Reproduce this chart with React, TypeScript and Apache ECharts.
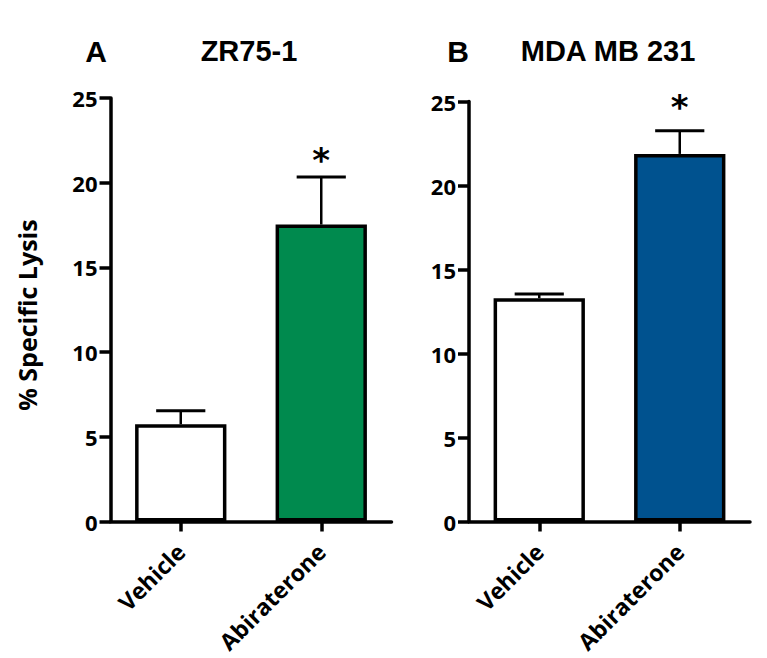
import React, { useEffect, useRef } from 'react';
import * as echarts from 'echarts';

// ---- data ----
const categories = ['Vehicle', 'Abiraterone'];
const panelLetters = ['A', 'B'];
const panelTitles = ['ZR75-1', 'MDA MB 231'];
const zr751Means = [5.74, 17.53];
const zr751Errors = [0.8, 2.81];
const mdaMeans = [13.29, 21.88];
const mdaErrors = [0.25, 1.38];
const significance = ['', '*'];
const yMin = 0;
const yMax = 25;
const yInterval = 5;
const yAxisTitle = '% Specific Lysis';

// ---- layout / style ----
const panels = [
  { means: zr751Means, errors: zr751Errors, left: 110.5, top: 98, width: 281, height: 423.5, fill: '#008A4E', letterX: 96, titleX: 249, starGap: 17 },
  { means: mdaMeans, errors: mdaErrors, left: 469, top: 101.5, width: 281, height: 420, fill: '#00528F', letterX: 458, titleX: 608, starGap: 24 },
];

const labelFont = 'Open Sans';

export default function App() {
  const ref = useRef<HTMLDivElement>(null);
  useEffect(() => {
    if (!ref.current) return;
    const chart = echarts.init(ref.current, null, { renderer: 'svg' });

    const grid = panels.map((p) => ({ left: p.left, top: p.top, width: p.width, height: p.height }));
    const xAxis = panels.map((p, k) => ({
      type: 'category',
      gridIndex: k,
      data: categories,
      axisLine: { show: true, lineStyle: { color: '#000', width: 3.5 } },
      axisTick: { show: true, alignWithLabel: true, length: 10, lineStyle: { color: '#000', width: 3.5 } },
      axisLabel: { rotate: 45, margin: 26, fontSize: 23, fontWeight: 'bold', fontFamily: labelFont, color: '#000' },
      splitLine: { show: false },
    }));
    const yAxis = panels.map((p, k) => ({
      type: 'value',
      gridIndex: k,
      min: yMin,
      max: yMax,
      interval: yInterval,
      axisLine: { show: true, lineStyle: { color: '#000', width: 3.5 } },
      axisTick: { show: true, length: 11, lineStyle: { color: '#000', width: 3.5 } },
      axisLabel: { margin: 13, fontSize: 22, fontWeight: 'bold', fontFamily: labelFont, color: '#000' },
      splitLine: { show: false },
    }));

    const series: any[] = [];
    panels.forEach((p, k) => {
      series.push({
        type: 'bar',
        xAxisIndex: k,
        yAxisIndex: k,
        barWidth: '65%',
        z: 2,
        itemStyle: { borderColor: '#000', borderWidth: 3.5 },
        data: p.means.map((v, i) => ({ value: v, itemStyle: { color: i === 0 ? '#ffffff' : p.fill } })),
      });
      series.push({
        type: 'custom',
        xAxisIndex: k,
        yAxisIndex: k,
        z: 3,
        data: p.means.map((m, i) => [i, m, p.errors[i]]),
        renderItem: (params: any, api: any) => {
          const x = api.value(0);
          const m = api.value(1);
          const e = api.value(2);
          const base = api.coord([x, m]);
          const top = api.coord([x, m + e]);
          const band = api.size([1, 0])[0];
          const half = band * 0.175;
          const children: any[] = [
            { type: 'line', shape: { x1: base[0], y1: base[1], x2: top[0], y2: top[1] }, style: { stroke: '#000', lineWidth: 2.5 } },
            { type: 'line', shape: { x1: top[0] - half, y1: top[1], x2: top[0] + half, y2: top[1] }, style: { stroke: '#000', lineWidth: 3 } },
          ];
          const star = significance[params.dataIndex];
          if (star) {
            children.push({
              type: 'text',
              x: top[0],
              y: top[1] - p.starGap,
              style: { text: star, font: 'bold 34px "DejaVu Sans"', fill: '#000', align: 'center', verticalAlign: 'middle' },
            });
          }
          return { type: 'group', children };
        },
      });
    });

    const graphic: any[] = [
      {
        type: 'text',
        x: 27,
        y: 315,
        rotation: Math.PI / 2,
        style: { text: yAxisTitle, font: `bold 25px "${labelFont}"`, fill: '#000', align: 'center', verticalAlign: 'middle' },
      },
    ];
    panels.forEach((p, k) => {
      graphic.push({
        type: 'text', x: p.letterX, y: 51,
        style: { text: panelLetters[k], font: 'bold 30px "Liberation Sans"', fill: '#000', align: 'center', verticalAlign: 'middle' },
      });
      graphic.push({
        type: 'text', x: p.titleX, y: 51,
        style: { text: panelTitles[k], font: 'bold 29px "Liberation Sans"', fill: '#000', align: 'center', verticalAlign: 'middle' },
      });
    });

    chart.setOption({
      animation: false,
      backgroundColor: '#ffffff',
      grid,
      xAxis,
      yAxis,
      series,
      graphic,
    });
    return () => chart.dispose();
  }, []);

  return <div ref={ref} style={{ position: 'fixed', left: 0, top: 0, width: 767, height: 658 }} />;
}
